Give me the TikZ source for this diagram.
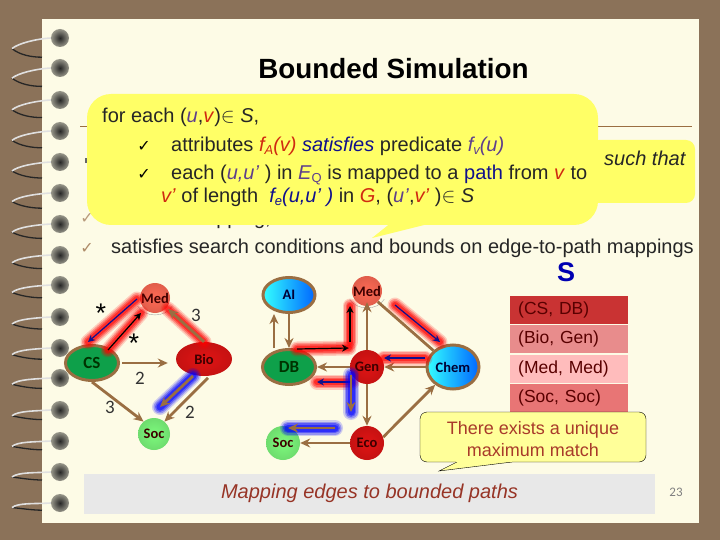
\documentclass[tikz,border=0pt]{standalone}
\usepackage{fontspec}
\setmainfont{Liberation Sans}
\newfontfamily\labelfont{Carlito}
\newfontfamily\checkfont{DejaVu Sans}
\usetikzlibrary{shapes}
\usetikzlibrary{arrows}
\usetikzlibrary{arrows.meta}
\definecolor{c_board}{HTML}{8B7259}
\definecolor{c_page}{HTML}{FDFBE6}
\definecolor{c_note}{HTML}{FFFF66}
\definecolor{c_soft}{HTML}{FFFF99}
\definecolor{c_edge}{HTML}{9A6E42}
\definecolor{c_purple}{HTML}{5E3F8C}
\definecolor{c_red}{HTML}{D02A10}
\definecolor{c_blue}{HTML}{10108C}
\definecolor{c_maroon}{HTML}{A83A2A}
\definecolor{c_coral}{HTML}{FF6A55}
\definecolor{c_ball}{HTML}{E01414}
\definecolor{c_lime}{HTML}{7DFA7D}
\definecolor{c_grass}{HTML}{0EA04A}
\definecolor{c_rowa}{HTML}{C93333}
\definecolor{c_rowb}{HTML}{E88C8C}
\definecolor{c_rowc}{HTML}{FFBCBC}
\definecolor{c_rowd}{HTML}{E87575}
\newcommand{\sz}[1]{\fontsize{#1}{#1}\selectfont}
\newcommand{\uu}[1]{\textcolor{c_purple}{\textit{#1}}}
\newcommand{\vv}[1]{\textcolor{c_red}{\textit{#1}}}
\tikzset{
	line_text/.style = {
		anchor=base west,
		inner sep=0pt,
		font=\sz{20},
		text=black!85
	},
	tick/.style = {
		anchor=base,
		inner sep=0pt,
		font=\checkfont\sz{16}
	},
	node_base/.style = {
		inner sep=0pt,
		align=center,
		font=\labelfont\bfseries\sz{14.5},
		text=black!70!red!80!black
	},
	node_ball/.style = {
		node_base,
		circle,
		minimum size=34pt,
		inner color=#1,
		outer color=#1!88!black
	},
	node_oval/.style = {
		node_base,
		ellipse,
		minimum width=53pt,
		minimum height=35pt,
		draw=c_edge,
		line width=3pt,
		fill=#1,
		text=black!80!green,
		font=\labelfont\bfseries\sz{17}
	},
	node_sky/.style = {
		node_base,
		ellipse,
		minimum width=52pt,
		minimum height=35pt,
		draw=c_edge,
		line width=3pt,
		left color=cyan!80!white,
		right color=blue!60!cyan,
		text=black!80!blue
	},
	edge_b/.style = {
		c_edge,
		line width=2.8pt,
		-{Stealth[length=10pt,width=9pt]}
	},
	edge_t/.style = {
		line width=1.2pt,
		-{Stealth[length=7pt,width=7pt]}
	},
	num/.style = {
		inner sep=0pt,
		font=\labelfont\sz{19},
		text=black!80
	},
	star/.style = {
		inner sep=0pt,
		font=\sz{27},
		text=black
	},
	glow_r/.style = {
		preaction={draw=red,line cap=round,line width=15pt,opacity=.18,-},
		preaction={draw=red,line cap=round,line width=12pt,opacity=.28,-},
		preaction={draw=red,line cap=round,line width=9pt,opacity=.38,-},
		preaction={draw=red,line cap=round,line width=6pt,opacity=.5,-}
	},
	glow_b/.style = {
		preaction={draw=blue,line cap=round,line width=16pt,opacity=.18,-},
		preaction={draw=blue,line cap=round,line width=13pt,opacity=.28,-},
		preaction={draw=blue,line cap=round,line width=10pt,opacity=.38,-},
		preaction={draw=blue,line cap=round,line width=7pt,opacity=.5,-}
	},
	row_s/.style = {
		anchor=north west,
		minimum width=118pt,
		minimum height=28pt,
		inner sep=0pt,
		inner xsep=8pt,
		text width=102pt,
		font=\sz{17.5},
		text=black!65!red
	},
	ring_ball/.style = {
		circle,
		minimum size=18pt,
		inner sep=0pt,
		inner color=black!85,
		outer color=c_page!60!black
	},
	under_arc/.style = {
		black!35,
		thin
	},
}

\begin{document}
\begin{tikzpicture}[x=1pt,y=-1pt,>=stealth']
\useasboundingbox (0,0) rectangle (720,540);
\fill[c_board] (0,0) rectangle (720,540);
\fill[c_page] (42,19) rectangle (699,523);

% spiral
\foreach \y [count=\i] in {38,68,100,131,162,193,224,255,285,317,348,378,410,441,472,503} {
	\pgfmathsetmacro{\gap}{16-0.8*\i}
	\node [ring_ball] (ball\i) at (60,\y) {};
	\coordinate (loop\i) at (12,\y+\gap/2+3);
	\draw [black!85,line width=1.3pt] (loop\i) .. controls (20,\y+\gap+2) and (32,\y+\gap+4) .. (42,\y+\gap+4);
	\draw [black!12,line width=1.6pt] (ball\i.west) .. controls (35,\y+1) and (18,\y+\gap/2-2) .. (loop\i);
}

% title
\node [inner sep=0pt,font=\bfseries\sz{27.8},text=black] (title) at (393.5,69) {Bounded Simulation};
\draw [c_edge,line width=.7pt] (80,126) -- (692,126);
\fill [black!60] (85,158) rectangle (88,163);

% text under the note
\node [line_text,anchor=base east] (hidden) at (271,225) {mapping,};
\node [tick,text=c_edge!70] (tick1) at (87,224) {✓};

% note
\fill [c_note,rounded corners=9pt] (590,140) rectangle (695,203);
\fill [c_note,rounded corners=24pt] (87,94) rectangle (598,225);
\fill [c_note] (372,238) -- (392,222) -- (436,222) -- cycle;

\node [line_text,font=\sz{20}\itshape] (such) at (604,166) {such that};
\node [line_text] (n1) at (102,123) {for each (\uu{u},\vv{v})$\in$ \textit{S},};
\node [tick] (t1) at (144,152) {✓};
\node [line_text] (n2) at (171,152) {attributes \vv{f\raisebox{-3pt}{\sz{13}A}}\vv{(v)} \textcolor{c_blue}{\textit{satisfies}} predicate \uu{f\raisebox{-3pt}{\sz{13}v}(u)}};
\node [tick] (t2) at (144,180) {✓};
\node [line_text] (n3) at (171,180) {each (\uu{u,u’} ) in \textcolor{c_purple}{\textit{E}\raisebox{-3pt}{\sz{13}Q}} is mapped to a \textcolor{c_blue}{path} from \vv{v} to};
\node [line_text] (n4) at (161,203) {\vv{v’} of length \ \textcolor{c_blue}{\textit{f\raisebox{-3pt}{\sz{13}e}(u,u’ )}} in \vv{G}, (\uu{u’},\vv{v’} )$\in$ \textit{S}};

\node [tick,text=c_edge!80] (tick2) at (87,253) {✓};
\node [line_text] (cond) at (111,254) {satisfies search conditions and bounds on edge-to-path mappings};

% query graph
\node [node_ball=c_coral,minimum size=30pt] (q_med) at (155,298) {Med};
\node [node_oval=c_grass] (q_cs) at (92,363) {CS};
\node [node_ball=c_ball,ellipse,minimum width=56pt,minimum height=34pt] (q_bio) at (204,359) {Bio};
\node [node_ball=c_lime,minimum size=32pt] (q_soc) at (154,434) {Soc};
\draw [under_arc] ([shift={(-3,3)}]q_med.-160) to[bend right=60] ([shift={(3,3)}]q_med.-20);

\draw [edge_b,shorten <=2pt,shorten >=8pt] (q_cs.east) -- (q_cs.east -| q_bio.west);
\draw [edge_b] (q_cs.south) -- (q_soc.130);
\draw [edge_b,shorten <=3pt] (q_bio.-70) -- (q_soc.50);
\coordinate (q_a) at (193,376);
\coordinate (q_b) at (160,407);
\draw [edge_b,glow_b] (q_a) -- (q_b);
\draw [edge_b,glow_r,shorten >=2pt] (q_bio.north) -- (q_med.-40);
\coordinate (q_c) at (137,299);
\coordinate (q_d) at (88,342);
\coordinate (q_e) at (108,350);
\coordinate (q_f) at (141,313);
\draw [glow_r,edge_t,c_blue] (q_c) -- (q_d);
\draw [glow_r,edge_t,black] (q_e) -- (q_f);

\node [star] (s1) at (101,313) {*};
\node [star] (s2) at (134,343) {*};
\node [num] (w1) at (196,315) {3};
\node [num] (w2) at (140,378) {2};
\node [num] (w3) at (110,407) {3};
\node [num] (w4) at (190,412) {2};

% data graph
\node [node_sky] (d_ai) at (289,295) {AI};
\node [node_ball=c_coral,minimum size=30pt] (d_med) at (367,291) {Med};
\node [node_oval=c_grass] (d_db) at (289,367) {DB};
\node [node_ball=c_ball] (d_gen) at (367,367) {Gen};
\node [node_sky,minimum height=44pt] (d_chem) at (453,367) {Chem};
\node [node_ball=c_lime] (d_soc) at (283,443) {Soc};
\node [node_ball=c_ball] (d_eco) at (367,443) {Eco};
\draw [under_arc] ([shift={(-3,3)}]d_med.-160) to[bend right=60] ([shift={(3,3)}]d_med.-20);

\draw [edge_b] ([xshift=-15pt]d_db.north) -- ([xshift=-15pt]d_ai.south);
\draw [edge_b] (d_ai.south) -- (d_db.north);
\draw [edge_b] (d_gen.north) -- ([yshift=4pt]d_med.south);
\draw [c_edge,line width=2.8pt] (d_med.-45) -- (d_chem.140);
\draw [edge_b] (d_chem.west) -- (d_gen.east);
\draw [edge_b] (d_gen.west) -- (d_db.east);
\draw [edge_b] (d_gen.south) -- (d_eco.north);
\draw [edge_b] (d_eco.west) -- (d_soc.east);
\draw [edge_b] (d_eco.20) -- (d_chem.-135);

\coordinate (d_a) at (297,349);
\coordinate (d_b) at (349,348);
\coordinate (d_c) at (350,342);
\coordinate (d_d) at (350,306);
\coordinate (d_e) at (395,305);
\coordinate (d_f) at (440,342);
\coordinate (d_g) at (425,358);
\coordinate (d_h) at (384,358);
\coordinate (d_i) at (352,382);
\coordinate (d_j) at (317,382);
\coordinate (d_k) at (351,375);
\coordinate (d_l) at (351,412);
\coordinate (d_m) at (335,428);
\coordinate (d_n) at (288,428);
\draw [glow_r,edge_t,black] (d_a) -- (d_b);
\draw [glow_r,edge_t,black] (d_c) -- (d_d);
\draw [glow_r,edge_t,c_blue] (d_e) -- (d_f);
\draw [glow_r,edge_t,c_blue] (d_g) -- (d_h);
\draw [glow_r,edge_t,c_blue] (d_i) -- (d_j);
\draw [edge_b,glow_b] (d_k) -- (d_l);
\draw [edge_b,glow_b] (d_m) -- (d_n);

% table S
\node [inner sep=0pt,font=\bfseries\sz{27},text=blue!70!black] (s_name) at (566,272) {S};
\node [row_s,fill=c_rowa] (r1) at (510,296) {(CS, DB)};
\node [row_s,fill=c_rowb] (r2) at (510,325) {(Bio, Gen)};
\node [row_s,fill=c_rowc] (r3) at (510,355) {(Med, Med)};
\node [row_s,fill=c_rowd] (r4) at (510,384) {(Soc, Soc)};

% small note
\draw [black,fill=c_soft,rounded corners=7pt] (420,412) rectangle (646,462);
\draw [black,fill=c_soft] (457,462) -- (439,471) -- (512,462);
\fill [c_soft] (456,460) rectangle (512,462.4);
\node [inner sep=0pt,align=center,font=\sz{18},text=c_maroon] (unique) at (533,439.5) {There exists a unique\\[4pt]maximum match};

% footer
\node [anchor=north west,fill=black!9,minimum width=571pt,minimum height=40pt,inner sep=0pt] (foot) at (84,474) {};
\node [inner sep=0pt,font=\itshape\sz{20},text=c_maroon!90!black] (foot_text) at (369.5,493.5) {Mapping edges to bounded paths};
\node [inner sep=0pt,font=\labelfont\sz{13},text=black!50] (page_no) at (676,492) {23};
\end{tikzpicture}
\end{document}
